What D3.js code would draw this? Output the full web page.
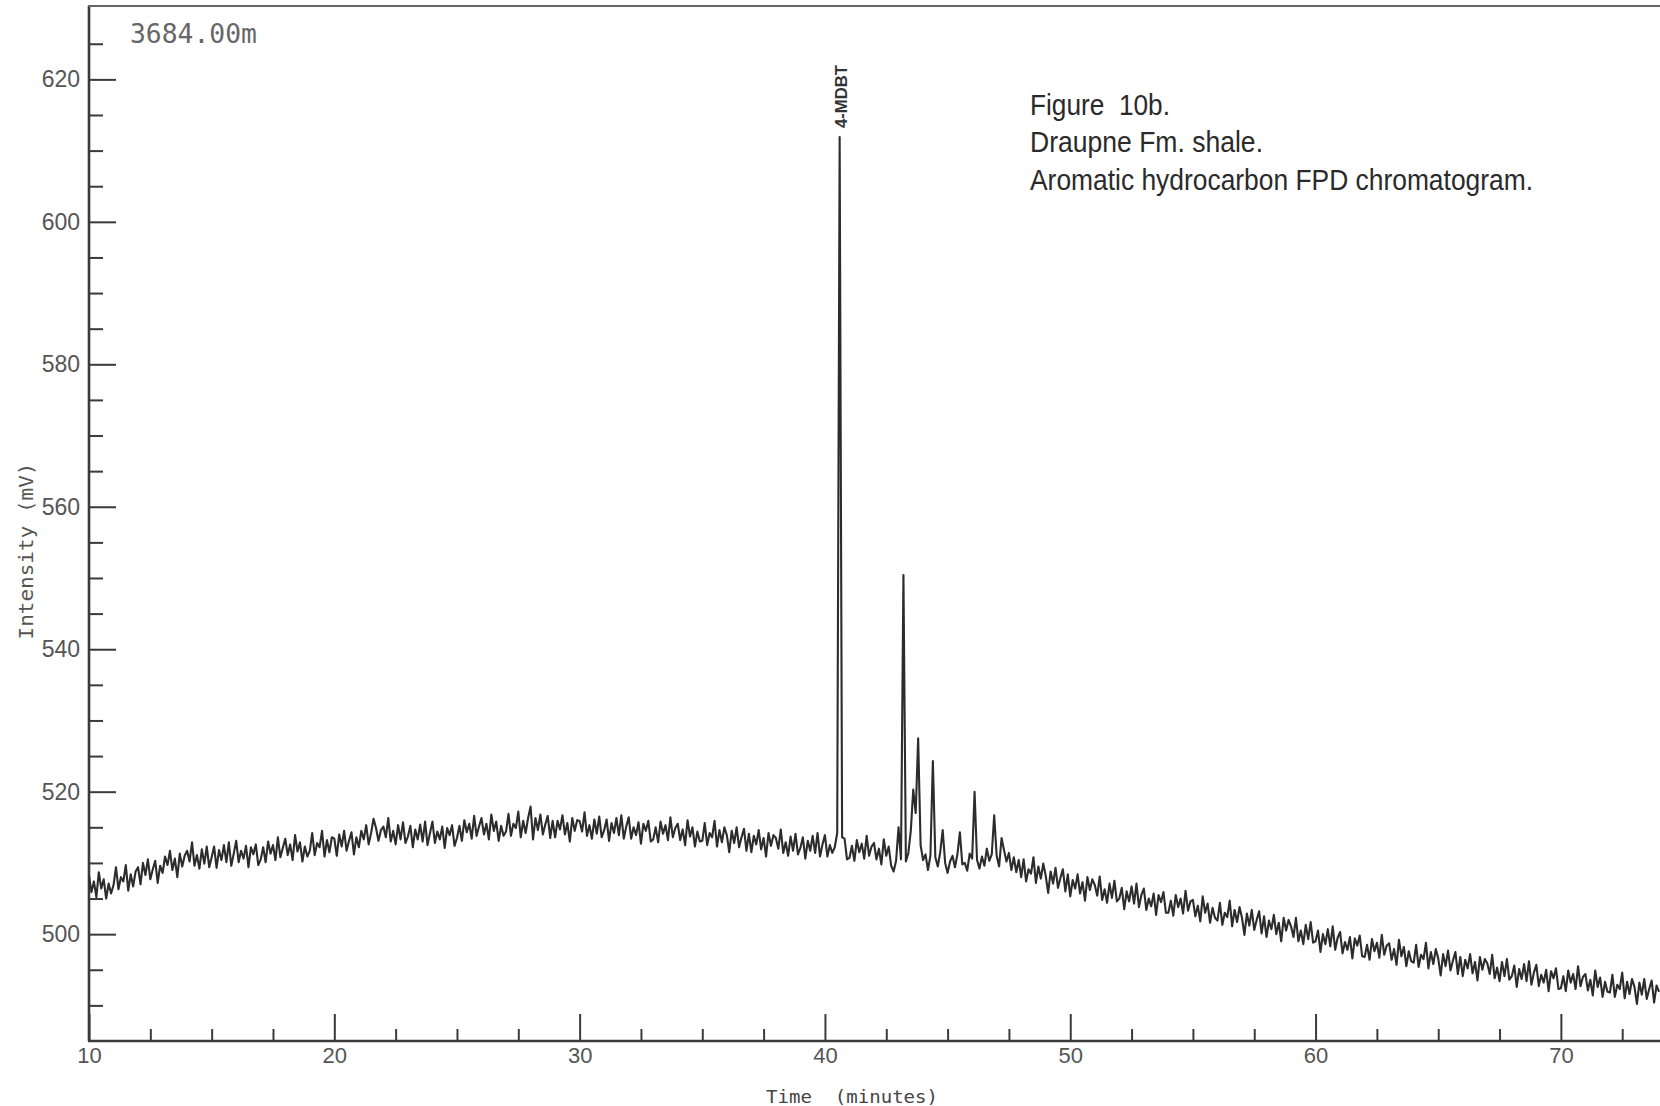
<!DOCTYPE html>
<html>
<head>
<meta charset="utf-8">
<script src="https://cdn.jsdelivr.net/npm/d3@7"></script>
<style>
body{margin:0;background:#fff}
text{white-space:pre}
</style>
</head>
<body>
<svg id="chart" width="1660" height="1106"></svg>
<script>
// sampling of the trace (minutes)
const tStart = 10, tStep = 0.1;

// detector signal in mV, one row per minute (t = m.0 ... m.9)
const intensity = [
508.2,505.9,507.4,505.2,508.7,506.4,507.7,505.0,507.1,505.7, // 10
506.9,509.4,506.3,508.0,507.4,509.7,506.1,508.4,506.7,508.8, // 11
509.4,507.0,510.0,508.3,510.5,507.7,509.1,510.3,507.2,509.6, // 12
508.6,510.9,509.7,511.7,509.0,510.6,508.0,511.3,509.5,511.0, // 13
511.7,510.2,512.9,509.6,511.1,509.2,511.9,509.9,512.3,509.4, // 14
510.8,512.3,509.3,511.8,510.4,512.5,510.1,512.9,509.6,511.3, // 15
513.1,510.1,511.7,510.6,512.4,509.4,512.2,511.2,512.6,509.7, // 16
510.5,512.2,510.1,513.0,511.3,512.5,510.4,513.6,510.8,512.1, // 17
513.4,511.1,512.6,510.4,513.9,511.6,512.9,510.2,512.3,510.9, // 18
511.7,514.2,511.1,512.8,512.2,514.5,510.9,513.2,511.5,513.6, // 19
513.4,511.0,514.0,512.3,514.5,511.7,513.1,514.3,511.2,513.6, // 20
512.2,514.5,513.3,515.3,512.6,514.2,516.2,514.9,513.1,514.6, // 21
515.1,513.6,516.3,513.0,514.5,512.6,515.3,513.3,515.7,512.8, // 22
513.7,515.2,512.2,514.7,513.3,515.4,513.0,515.8,512.5,514.2, // 23
515.8,512.8,514.4,513.3,515.1,512.1,514.9,513.9,515.3,512.4, // 24
513.5,515.2,513.1,516.0,514.3,515.5,513.4,516.6,513.8,515.1, // 25
516.3,514.0,515.5,513.3,516.8,514.5,515.8,513.1,515.2,513.8, // 26
514.4,516.9,513.8,515.5,514.9,517.2,513.6,515.9,514.2,516.3, // 27
517.9,513.3,516.3,514.6,516.8,514.0,515.4,516.6,513.5,515.9, // 28
513.6,515.9,514.7,516.7,514.0,515.6,513.0,516.3,514.5,516.0, // 29
515.9,514.4,517.1,513.8,515.3,513.4,516.1,514.1,516.5,513.6, // 30
514.6,516.1,513.1,515.6,514.2,516.3,513.9,516.7,513.4,515.1, // 31
516.4,513.4,515.0,513.9,515.7,512.7,515.5,514.5,515.9,513.0, // 32
513.3,515.0,512.9,515.8,514.1,515.3,513.2,516.4,513.6,514.9, // 33
515.5,513.2,514.7,512.5,516.0,513.7,515.0,512.3,514.4,513.0, // 34
513.1,515.6,512.5,514.2,513.6,515.9,512.3,514.6,512.9,515.0, // 35
513.9,511.5,514.5,512.8,515.0,512.2,513.6,514.8,511.7,514.1, // 36
511.5,513.8,512.6,514.6,511.9,513.5,510.9,514.2,512.4,513.9, // 37
513.5,512.0,514.7,511.4,512.9,511.0,513.7,511.7,514.1,511.2, // 38
512.1,513.6,510.6,513.1,511.7,513.8,511.4,514.2,510.9,512.6, // 39
513.9,510.9,512.5,511.4,512.2,514.2,611.9,513.6,513.4,510.5, // 40  4-MDBT
510.7,512.4,510.3,513.2,511.5,512.7,510.6,513.8,511.0,512.3, // 41
512.8,510.5,512.0,509.8,513.3,511.0,512.3,509.6,508.8,510.3, // 42
515.0,510.5,550.4,510.2,511.4,514.5,520.3,517.0,527.5,512.5, // 43
510.4,511.2,509.0,511.0,524.3,510.8,509.5,511.5,514.6,510.0, // 44
508.6,510.2,511.0,509.4,511.2,514.3,509.8,510.0,508.9,511.3, // 45
510.6,520.0,510.4,509.2,510.9,509.6,512.0,510.3,511.2,516.7, // 46
511.0,509.5,513.5,511.8,510.2,511.4,509.0,510.8,508.7,510.4, // 47
508.0,510.5,507.4,509.1,508.5,510.8,507.2,509.5,507.8,509.9, // 48
508.2,505.8,508.8,507.1,509.3,506.5,507.9,509.1,506.0,508.4, // 49
505.3,507.6,506.4,508.4,505.7,507.3,504.7,508.0,506.2,507.7, // 50
506.9,505.4,508.1,504.8,506.3,504.4,507.1,505.1,507.5,504.6, // 51
505.0,506.5,503.5,506.0,504.6,506.7,504.3,507.1,503.8,505.5, // 52
506.4,503.4,505.0,503.9,505.7,502.7,505.5,504.5,505.9,503.0, // 53
503.0,504.7,502.6,505.5,503.8,505.0,502.9,506.1,503.3,504.6, // 54
504.8,502.5,504.0,501.8,505.3,503.0,504.3,501.6,503.7,502.3, // 55
501.9,504.4,501.3,503.0,502.4,504.7,501.1,503.4,501.7,503.8, // 56
502.3,499.9,502.9,501.2,503.4,500.6,502.0,503.2,500.1,502.5, // 57
499.6,501.9,500.7,502.7,500.0,501.6,499.0,502.3,500.5,502.0, // 58
501.1,499.6,502.3,499.0,500.5,498.6,501.3,499.3,501.7,498.8, // 59
499.0,500.5,497.5,500.0,498.6,500.7,498.3,501.1,497.8,499.5, // 60
500.3,497.3,498.9,497.8,499.6,496.6,499.4,498.4,499.8,496.9, // 61
496.8,498.5,496.4,499.3,497.6,498.8,496.7,499.9,497.1,498.4, // 62
498.7,496.4,497.9,495.7,499.2,496.9,498.2,495.5,497.6,496.2, // 63
496.0,498.5,495.4,497.1,496.5,498.8,495.2,497.5,495.8,497.9, // 64
496.6,494.2,497.2,495.5,497.7,494.9,496.3,497.5,494.4,496.8, // 65
494.1,496.4,495.2,497.2,494.5,496.1,493.5,496.8,495.0,496.5, // 66
495.9,494.4,497.1,493.8,495.3,493.4,496.1,494.1,496.5,493.6, // 67
494.1,495.6,492.6,495.1,493.7,495.8,493.4,496.2,492.9,494.6, // 68
495.7,492.7,494.3,493.2,495.0,492.0,494.8,493.8,495.2,492.3, // 69
492.4,494.1,492.0,494.9,493.2,494.4,492.3,495.5,492.7,494.0, // 70
494.4,492.1,493.6,491.4,494.9,492.6,493.9,491.2,493.3,491.9, // 71
491.8,494.3,491.2,492.9,492.3,494.6,491.0,493.3,491.6,493.7, // 72
492.6,490.2,493.2,491.5,493.7,490.9,492.3,493.5,490.4,492.8, // 73
491.9
];

const peakLabels = [{t: 40.6, v: 611.9, text: "4-MDBT"}];

const yMajor = [500, 520, 540, 560, 580, 600, 620];
const xMajor = [10, 20, 30, 40, 50, 60, 70];
const sampleName = "3684.00m";
const titleLines = ["Figure  10b.", "Draupne Fm. shale.", "Aromatic hydrocarbon FPD chromatogram."];
const xTitle = "Time  (minutes)";
const yTitle = "Intensity (mV)";

const svg = d3.select("#chart");
const W = 1660, H = 1106;
svg.append("rect").attr("width", W).attr("height", H).attr("fill", "#fff");

const x = d3.scaleLinear().domain([10, 74]).range([89, 1659]);
const y = d3.scaleLinear().domain([485, 630.3]).range([1041, 6]);

const yMinor = d3.range(490, 630, 5).filter(v => v % 20 !== 0);
const xMinor = d3.range(12.5, 75, 2.5).filter(v => v % 10 !== 0);

const ink = "#3a3a3a";
const labelFont = "'Liberation Sans', Arial, sans-serif";
const monoFont = "'DejaVu Sans Mono', 'Liberation Mono', monospace";

// y axis ticks (pointing into the plot), labels on the left
const yAxisMajor = svg.append("g").attr("transform", "translate(89,0)")
  .call(d3.axisLeft(y).tickValues(yMajor).tickSizeInner(-27).tickSizeOuter(0).tickPadding(9));
const yAxisMinor = svg.append("g").attr("transform", "translate(89,0)")
  .call(d3.axisLeft(y).tickValues(yMinor).tickSizeInner(-14).tickSizeOuter(0).tickFormat(""));

// x axis ticks pointing up, labels below
const xAxisMajor = svg.append("g").attr("transform", "translate(0,1041)")
  .call(d3.axisBottom(x).tickValues(xMajor).tickSizeInner(-27).tickSizeOuter(0).tickPadding(6));
const xAxisMinor = svg.append("g").attr("transform", "translate(0,1041)")
  .call(d3.axisBottom(x).tickValues(xMinor).tickSizeInner(-12).tickSizeOuter(0).tickFormat(""));

[yAxisMajor, yAxisMinor, xAxisMajor, xAxisMinor].forEach(g => {
  g.select(".domain").remove();
  g.selectAll(".tick line").attr("stroke", ink).attr("stroke-width", 2);
  g.selectAll(".tick text").attr("fill", "#555").attr("font-family", labelFont);
});
yAxisMajor.selectAll(".tick text").attr("font-size", 23);
xAxisMajor.selectAll(".tick text").attr("font-size", 22);

// frame
svg.append("line").attr("x1", 89).attr("x2", 89).attr("y1", 6).attr("y2", 1041)
  .attr("stroke", ink).attr("stroke-width", 2.6);
svg.append("line").attr("x1", 88).attr("x2", W).attr("y1", 1041).attr("y2", 1041)
  .attr("stroke", ink).attr("stroke-width", 2.4);
svg.append("line").attr("x1", 88).attr("x2", W).attr("y1", 6).attr("y2", 6)
  .attr("stroke", "#666").attr("stroke-width", 2);

// trace
const trace = intensity.map((v, i) => [tStart + i * tStep, v]);
svg.append("path")
  .datum(trace)
  .attr("fill", "none")
  .attr("stroke", "#2c2c2c")
  .attr("stroke-width", 2.1)
  .attr("stroke-linejoin", "round")
  .attr("d", d3.line().x(d => x(d[0])).y(d => y(d[1])));

// peak label
svg.selectAll(".peak-label")
  .data(peakLabels)
  .enter().append("text")
  .attr("class", "peak-label")
  .attr("transform", d => "translate(" + (x(d.t) + 7) + "," + (y(d.v) - 9) + ") rotate(-90)")
  .attr("font-family", "'Liberation Sans Narrow', 'Liberation Sans', Arial, sans-serif")
  .attr("font-weight", "bold")
  .attr("font-size", 17)
  .attr("textLength", 63)
  .attr("lengthAdjust", "spacingAndGlyphs")
  .attr("fill", "#333")
  .text(d => d.text);

// sample depth
svg.append("text")
  .attr("x", 130).attr("y", 43)
  .attr("font-family", monoFont).attr("font-size", 26)
  .attr("textLength", 127).attr("lengthAdjust", "spacingAndGlyphs")
  .attr("fill", "#666")
  .text(sampleName);

// caption
const titleWidths = [140, 233, 503];
const titleBase = [115, 152, 190];
svg.selectAll(".caption")
  .data(titleLines)
  .enter().append("text")
  .attr("class", "caption")
  .attr("x", 1030)
  .attr("y", (d, i) => titleBase[i])
  .attr("font-family", "'Liberation Sans Narrow', 'Liberation Sans', Arial, sans-serif")
  .attr("font-size", 29)
  .attr("textLength", (d, i) => titleWidths[i])
  .attr("lengthAdjust", "spacingAndGlyphs")
  .attr("fill", "#2a2a2a")
  .text(d => d);

// axis titles
svg.append("text")
  .attr("transform", "translate(33,551) rotate(-90)")
  .attr("text-anchor", "middle")
  .attr("font-family", monoFont).attr("font-size", 19)
  .attr("textLength", 177).attr("lengthAdjust", "spacingAndGlyphs")
  .attr("fill", "#555")
  .text(yTitle);

svg.append("text")
  .attr("x", 766).attr("y", 1103)
  .attr("font-family", monoFont).attr("font-size", 17)
  .attr("textLength", 172).attr("lengthAdjust", "spacingAndGlyphs")
  .attr("fill", "#444")
  .text(xTitle);
</script>
</body>
</html>
